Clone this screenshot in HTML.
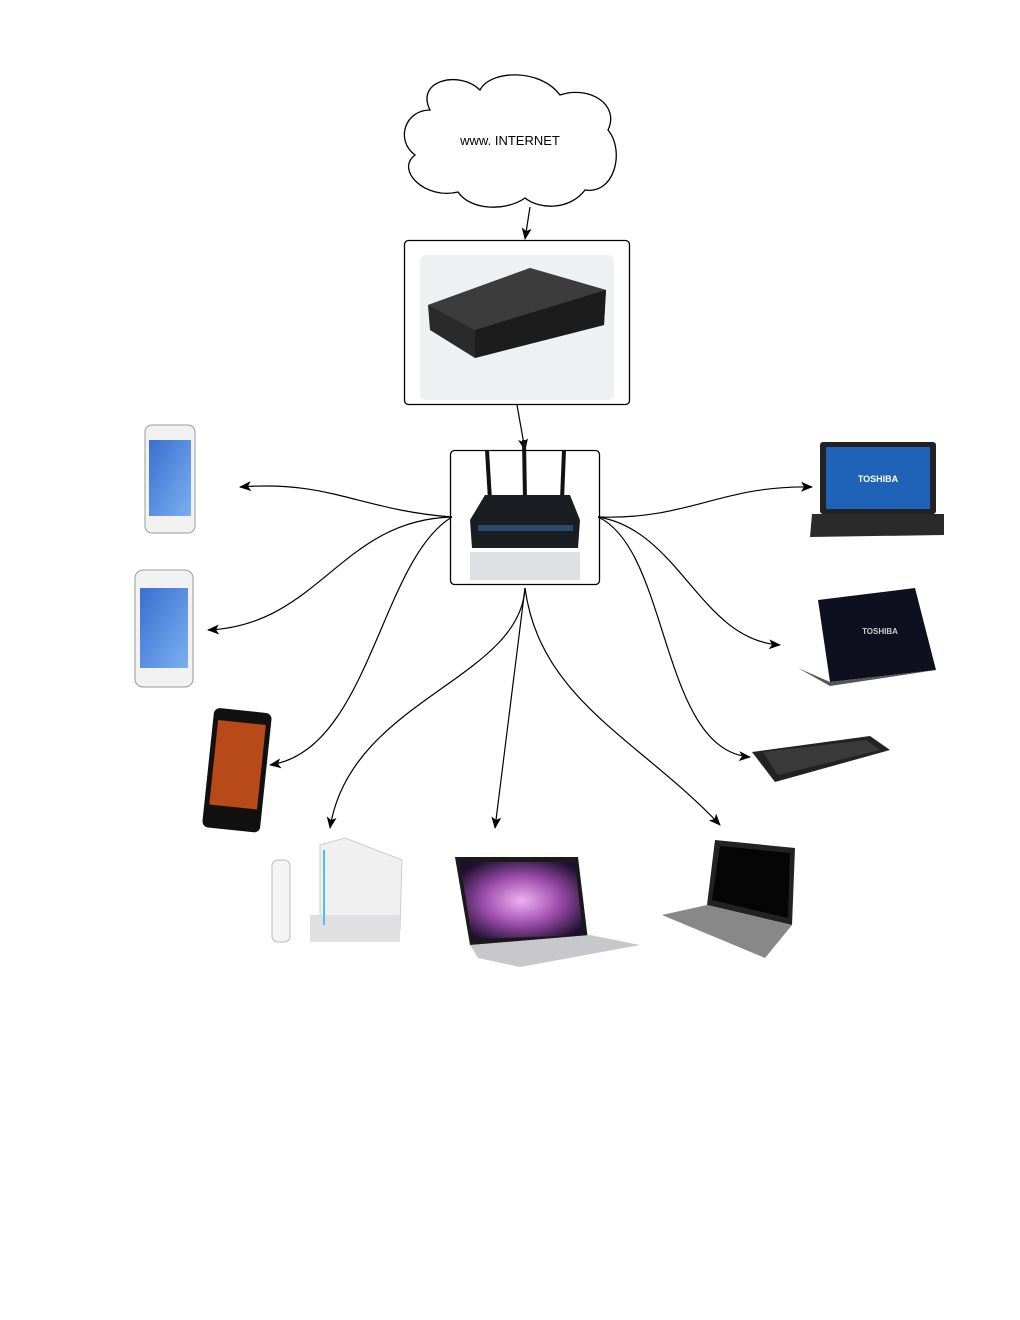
<!DOCTYPE html>
<html><head><meta charset="utf-8"><style>
html,body{margin:0;padding:0;background:#fff;}
svg{display:block}
text{font-family:"Liberation Sans",sans-serif}
</style></head><body>
<svg width="1020" height="1320" viewBox="0 0 1020 1320" xmlns="http://www.w3.org/2000/svg">
<defs>
<marker id="a" markerWidth="12" markerHeight="10" refX="11" refY="5" orient="auto" markerUnits="userSpaceOnUse">
<path d="M0,0 L12,5 L0,10 L3,5 Z" fill="#000"/></marker>
<linearGradient id="scr" x1="0" y1="0" x2="1" y2="1"><stop offset="0" stop-color="#3a6fd0"/><stop offset="1" stop-color="#7ab0f0"/></linearGradient>
<radialGradient id="mac" cx="0.5" cy="0.5" r="0.6"><stop offset="0" stop-color="#f0b0f0"/><stop offset="0.5" stop-color="#a050b0"/><stop offset="1" stop-color="#201030"/></radialGradient>
</defs>
<rect width="1020" height="1320" fill="#fff"/>
<!-- cloud -->
<path d="M430,110 C415,80 460,70 480,90 C490,70 540,68 560,95 C590,85 620,105 608,130 C625,150 615,195 585,190 C570,210 540,210 525,198 C505,212 470,210 458,192 C425,200 395,170 415,155 C395,140 405,110 430,110 Z" fill="#fff" stroke="#000" stroke-width="1.3"/>
<text x="510" y="145" font-size="13" text-anchor="middle">www. INTERNET</text>
<path d="M530,207 L525,239" fill="none" stroke="#000" stroke-width="1.2" marker-end="url(#a)"/>
<!-- modem box -->
<rect x="404.5" y="240.5" width="225" height="164" rx="4" fill="#fff" stroke="#000" stroke-width="1.3"/>
<rect x="420" y="255" width="194" height="145" rx="6" fill="#eef0f2"/>
<path d="M428,305 L530,268 L606,290 L604,325 L475,358 L430,330 Z" fill="#2a2a2a"/>
<path d="M428,305 L475,330 L606,290 L530,268 Z" fill="#3c3c3c"/>
<path d="M475,330 L475,358 L604,325 L606,290 Z" fill="#1c1c1c"/>
<path d="M517,405 L525,450" fill="none" stroke="#000" stroke-width="1.2" marker-end="url(#a)"/>
<!-- router box -->
<rect x="450.5" y="450.5" width="149" height="134" rx="4" fill="#fff" stroke="#000" stroke-width="1.3"/>
<line x1="487" y1="450" x2="490" y2="500" stroke="#111" stroke-width="4"/>
<line x1="524" y1="440" x2="525" y2="500" stroke="#111" stroke-width="4"/>
<line x1="564" y1="450" x2="562" y2="500" stroke="#111" stroke-width="4"/>
<path d="M470,520 L485,495 L570,495 L580,520 L578,548 L472,548 Z" fill="#1a1d22"/>
<rect x="478" y="525" width="95" height="6" fill="#2c4a70"/>
<rect x="470" y="552" width="110" height="28" fill="#c8ccd0" opacity="0.6"/>
<!-- connectors -->
<g fill="none" stroke="#000" stroke-width="1.2" marker-end="url(#a)">
<path d="M452,517 C360,510 330,480 240,487"/>
<path d="M452,517 C340,520 320,625 208,630"/>
<path d="M452,517 C380,560 370,750 270,765"/>
<path d="M525,588 C520,680 350,700 330,828"/>
<path d="M525,588 L495,828"/>
<path d="M525,588 C540,700 640,740 720,825"/>
<path d="M598,517 C690,520 720,485 812,487"/>
<path d="M598,517 C680,530 700,640 780,645"/>
<path d="M598,517 C670,550 660,750 750,757"/>
</g>
<!-- iphones -->
<g><rect x="145" y="425" width="50" height="108" rx="7" fill="#f2f2f2" stroke="#999"/><rect x="149" y="440" width="42" height="76" fill="url(#scr)"/></g>
<g><rect x="135" y="570" width="58" height="117" rx="8" fill="#f2f2f2" stroke="#999"/><rect x="140" y="588" width="48" height="80" fill="url(#scr)"/></g>
<!-- htc -->
<g transform="rotate(6 235 770)"><rect x="208" y="710" width="58" height="120" rx="6" fill="#111"/><rect x="213" y="722" width="48" height="85" fill="#b84a1a"/></g>
<!-- wii -->
<rect x="272" y="860" width="18" height="82" rx="6" fill="#f4f4f4" stroke="#bbb"/>
<path d="M320,845 L345,838 L402,860 L400,930 L320,940 Z" fill="#f0f0f0" stroke="#ccc"/>
<rect x="310" y="915" width="90" height="27" fill="#e0e0e2"/>
<line x1="324" y1="850" x2="324" y2="925" stroke="#4cc0f0" stroke-width="2"/>
<!-- macbook -->
<path d="M455,857 L578,857 L588,940 L470,945 Z" fill="#1a1a1a"/>
<path d="M460,862 L575,862 L583,935 L472,939 Z" fill="url(#mac)"/>
<path d="M470,945 L590,935 L640,945 L520,967 L478,958 Z" fill="#c8c8cc"/>
<!-- hp laptop -->
<path d="M715,840 L795,848 L792,925 L707,905 Z" fill="#222"/>
<path d="M720,846 L790,853 L788,918 L712,900 Z" fill="#050505"/>
<path d="M662,915 L707,905 L792,925 L765,958 Z" fill="#888"/>
<!-- toshiba laptops -->
<rect x="820" y="442" width="116" height="72" rx="3" fill="#222"/>
<rect x="826" y="447" width="104" height="62" fill="#1f63b8"/>
<text x="878" y="482" font-size="9" font-weight="bold" fill="#fff" text-anchor="middle">TOSHIBA</text>
<path d="M812,514 L944,514 L944,535 L810,537 Z" fill="#2a2a2a"/>
<path d="M818,600 L915,588 L936,670 L830,682 Z" fill="#0e1020"/>
<text x="880" y="634" font-size="8" font-weight="bold" fill="#ccc" text-anchor="middle">TOSHIBA</text>
<path d="M798,668 L830,682 L936,670 L830,686 Z" fill="#555"/>
<!-- tablet -->
<path d="M752,752 L870,736 L890,750 L775,782 Z" fill="#222"/>
<path d="M763,752 L866,740 L880,750 L778,775 Z" fill="#3a3a3a"/>
</svg>
</body></html>
